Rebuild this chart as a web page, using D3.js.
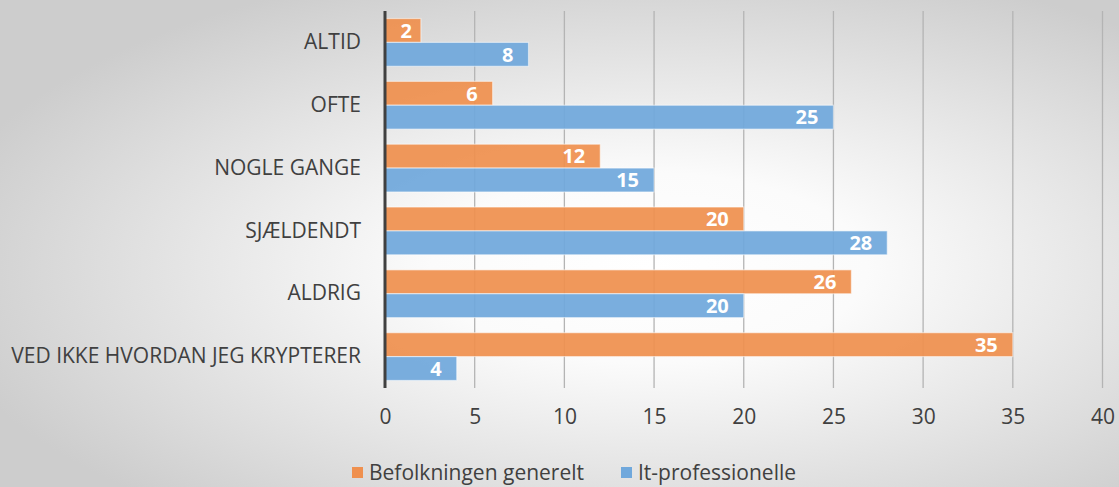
<!DOCTYPE html>
<html>
<head>
<meta charset="utf-8">
<script src="https://cdn.jsdelivr.net/npm/d3@7"></script>
<style>
  html, body { margin: 0; padding: 0; }
  body { width: 1119px; height: 487px; overflow: hidden; }
  text { font-family: "Open Sans", sans-serif; }
</style>
</head>
<body>
<div id="chartArea"></div>
<script>
// data
var categories = ['ALTID', 'OFTE', 'NOGLE GANGE', 'SJÆLDENDT', 'ALDRIG', 'VED IKKE HVORDAN JEG KRYPTERER'];
var seriesNames = ['Befolkningen generelt', 'It-professionelle'];
var befolkning = [2, 6, 12, 20, 26, 35];
var itProf = [8, 25, 15, 28, 20, 4];
var xTicks = [0, 5, 10, 15, 20, 25, 30, 35, 40];
var colors = ['#EF904F', '#70A8DC'];

var width = 1119, height = 487;
var margin = {top: 11, right: 15, bottom: 99, left: 385};
var innerW = 717.5; // 0..40
var innerH = height - margin.top - margin.bottom;

var svg = d3.select('#chartArea').append('svg')
    .attr('width', width)
    .attr('height', height);

var defs = svg.append('defs');
var grad = defs.append('radialGradient')
    .attr('id', 'bg')
    .attr('cx', '58%').attr('cy', '55%').attr('r', '65%');
grad.append('stop').attr('offset', '0%').attr('stop-color', '#ffffff');
grad.append('stop').attr('offset', '30%').attr('stop-color', '#fbfbfb');
grad.append('stop').attr('offset', '100%').attr('stop-color', '#cdcdcd');

svg.append('rect')
    .attr('width', '100%')
    .attr('height', '100%')
    .attr('fill', 'url(#bg)');

var x = d3.scaleLinear().domain([0, 40]).range([0, innerW]);
var y = d3.scaleBand().domain(categories).range([0, innerH]).paddingInner(0.24).paddingOuter(0.12);
var ySub = d3.scaleBand().domain([0, 1]).range([0, y.bandwidth()]);

var g = svg.append('g')
    .attr('transform', 'translate(' + margin.left + ',' + margin.top + ')');

// gridlines
g.append('g').selectAll('line').data(xTicks.slice(1)).enter().append('line')
    .attr('x1', function(d) { return x(d); })
    .attr('x2', function(d) { return x(d); })
    .attr('y1', 0)
    .attr('y2', innerH)
    .attr('stroke', '#b4b4b4')
    .attr('stroke-width', 1.3);

var rows = categories.map(function(c, i) {
    return {cat: c, vals: [befolkning[i], itProf[i]]};
});

var grp = g.selectAll('.cat').data(rows).enter().append('g')
    .attr('class', 'cat')
    .attr('transform', function(d) { return 'translate(0,' + y(d.cat) + ')'; });

grp.selectAll('rect').data(function(d) { return d.vals; }).enter().append('rect')
    .attr('x', 0)
    .attr('y', function(d, i) { return ySub(i); })
    .attr('width', function(d) { return x(d); })
    .attr('height', ySub.bandwidth())
    .attr('fill', function(d, i) { return colors[i]; })
    .attr('fill-opacity', 0.93)
    .attr('stroke', '#ffffff')
    .attr('stroke-opacity', 0.5)
    .attr('stroke-width', 1.2);

grp.selectAll('text.val').data(function(d) { return d.vals; }).enter().append('text')
    .attr('class', 'val')
    .attr('x', function(d) { return x(d) - (d < 3 ? 9 : 15); })
    .attr('y', function(d, i) { return ySub(i) + ySub.bandwidth() / 2; })
    .attr('dy', '0.36em')
    .attr('text-anchor', 'end')
    .attr('fill', '#ffffff')
    .style('font-weight', 'bold')
    .style('font-size', '20px')
    .text(function(d) { return d; });

// zero axis line
g.append('line')
    .attr('x1', 0).attr('x2', 0)
    .attr('y1', 0).attr('y2', innerH)
    .attr('stroke', '#404040')
    .attr('stroke-width', 3);

// category labels
var yAxis = g.append('g')
    .attr('transform', 'translate(-24,0)')
    .call(d3.axisLeft(y).tickSize(0).tickPadding(0));
yAxis.select('.domain').remove();
yAxis.selectAll('text')
    .attr('fill', '#404040')
    .style('font-size', '21px')
    .style('font-family', '"Open Sans", sans-serif');

// x tick labels
var xAxis = g.append('g')
    .attr('transform', 'translate(0,' + innerH + ')')
    .call(d3.axisBottom(x).tickValues(xTicks).tickSize(0).tickPadding(21));
xAxis.select('.domain').remove();
xAxis.selectAll('text')
    .attr('fill', '#404040')
    .style('font-size', '21px')
    .style('font-family', '"Open Sans", sans-serif');

// legend
var legendX = [352, 621];
var legend = svg.append('g').selectAll('g').data(seriesNames).enter().append('g')
    .attr('transform', function(d, i) { return 'translate(' + legendX[i] + ',472)'; });
legend.append('rect')
    .attr('x', 0).attr('y', -5)
    .attr('width', 11).attr('height', 11)
    .attr('fill', function(d, i) { return colors[i]; });
legend.append('text')
    .attr('x', 17)
    .attr('y', 0)
    .attr('dy', '0.36em')
    .attr('fill', '#404040')
    .style('font-size', '21px')
    .text(function(d) { return d; });
</script>
</body>
</html>
